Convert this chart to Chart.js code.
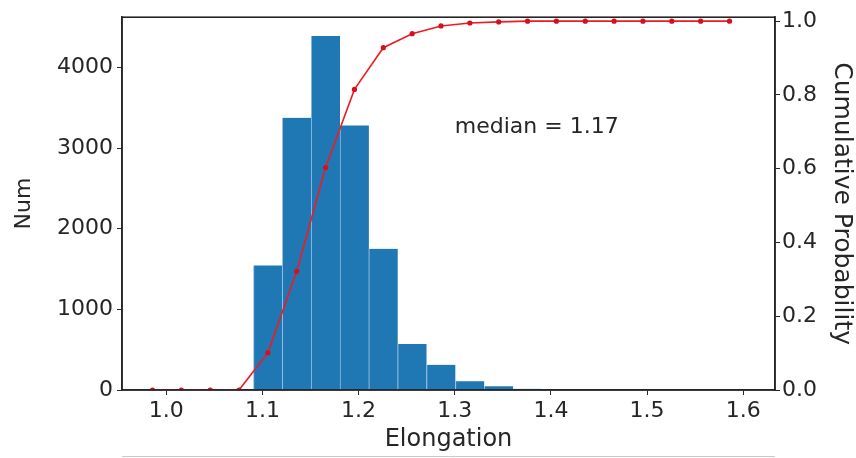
<!DOCTYPE html>
<html>
<head>
<meta charset="utf-8">
<script src="https://cdn.jsdelivr.net/npm/chart.js@4.4.1/dist/chart.umd.min.js"></script>
<style>
  html, body { margin: 0; padding: 0; background: #fff; }
  #wrap { position: relative; width: 856px; height: 458px; }
</style>
</head>
<body>
<div id="wrap"><canvas id="histChart" width="856" height="458"></canvas></div>
<script>
// bin centres of the elongation histogram
const binCenters = [0.9857, 1.0157, 1.0457, 1.0757, 1.1057, 1.1357, 1.1657, 1.1957, 1.2257, 1.2557,
                    1.2857, 1.3157, 1.3457, 1.3757, 1.4057, 1.4357, 1.4657, 1.4957, 1.5257, 1.5557, 1.5857];
// number of objects per bin
const counts = [0, 0, 0, 0, 1545, 3375, 4390, 3280, 1750, 570,
                313, 110, 45, 15, 0, 0, 0, 0, 0, 0, 0];
// cumulative probability at each bin centre
const cumProb = [0, 0, 0, 0, 0.101, 0.322, 0.603, 0.815, 0.928, 0.966,
                 0.987, 0.995, 0.998, 1.0, 1.0, 1.0, 1.0, 1.0, 1.0, 1.0, 1.0];
const xTicks = [1.0, 1.1, 1.2, 1.3, 1.4, 1.5, 1.6];
const numTicks = [0, 1000, 2000, 3000, 4000];
const probTicks = [0, 0.2, 0.4, 0.6, 0.8, 1.0];
const medianText = 'median = 1.17';

const FONT = "'DejaVu Sans', sans-serif";
const INK = '#262626';

var barData = [];
var lineData = [];
binCenters.forEach(function(x, i) {
    barData.push({x: x, y: counts[i]});
    lineData.push({x: x, y: cumProb[i]});
});

// frame on top + median note + the edge of the panel underneath
const framePlugin = {
    id: 'frame',
    afterDraw: function(chart) {
        const ctx = chart.ctx;
        const a = chart.chartArea;
        ctx.save();
        ctx.strokeStyle = INK;
        ctx.lineWidth = 1.6;
        ctx.strokeRect(a.left, a.top, a.right - a.left, a.bottom - a.top);

        ctx.fillStyle = INK;
        ctx.font = '22px ' + FONT;
        ctx.textAlign = 'left';
        ctx.textBaseline = 'middle';
        ctx.fillText(medianText, chart.scales.x.getPixelForValue(1.300), chart.scales.y1.getPixelForValue(0.712));

        ctx.strokeStyle = '#c8c8c8';
        ctx.lineWidth = 1;
        ctx.beginPath();
        ctx.moveTo(a.left, 456.5);
        ctx.lineTo(a.right, 456.5);
        ctx.stroke();
        ctx.restore();
    }
};

function fixWidth(w) {
    return function(scale) { scale.width = w; };
}
function setTicks(list) {
    return function(scale) {
        scale.ticks = list.map(function(v) { return {value: v}; });
    };
}

var ctx = document.getElementById('histChart').getContext('2d');
var histChart = new Chart(ctx, {
    type: 'bar',
    data: {
        datasets: [{
            type: 'line',
            data: lineData,
            yAxisID: 'y1',
            borderColor: '#f01a24',
            borderWidth: 1.6,
            pointRadius: 2.6,
            pointBackgroundColor: '#d4101c',
            pointBorderWidth: 0,
            tension: 0,
            order: 0
        }, {
            type: 'bar',
            data: barData,
            yAxisID: 'y',
            backgroundColor: '#1f77b4',
            borderColor: 'rgba(140,185,225,0.9)',
            borderWidth: {left: 1, right: 0, top: 0, bottom: 0},
            borderSkipped: false,
            barPercentage: 1,
            categoryPercentage: 1,
            order: 1
        }]
    },
    options: {
        responsive: false,
        animation: false,
        layout: { padding: {top: 11, left: 0, right: 0, bottom: 0} },
        plugins: { legend: {display: false}, tooltip: {enabled: false} },
        scales: {
            x: {
                type: 'linear',
                offset: false,
                min: 0.954,
                max: 1.633,
                afterBuildTicks: setTicks(xTicks),
                afterFit: function(scale) { scale.height = 68; },
                border: {display: true, color: INK, width: 1.6},
                grid: {display: true, offset: false, drawOnChartArea: false, drawTicks: true, tickLength: 5, color: INK},
                ticks: {
                    autoSkip: false,
                    maxRotation: 0,
                    padding: 3,
                    color: INK,
                    font: {family: FONT, size: 22},
                    callback: function(v) { return v.toFixed(1); }
                },
                title: {display: true, text: 'Elongation', color: INK, font: {family: FONT, size: 24}, padding: {top: 0, bottom: 4}}
            },
            y: {
                position: 'left',
                min: 0,
                max: 4622,
                afterBuildTicks: setTicks(numTicks),
                afterFit: fixWidth(122),
                border: {display: true, color: INK, width: 1.6},
                grid: {display: true, drawOnChartArea: false, drawTicks: true, tickLength: 5, color: INK},
                ticks: {
                    padding: 4,
                    color: INK,
                    font: {family: FONT, size: 22},
                    callback: function(v) { return String(v); }
                },
                title: {display: true, text: 'Num', color: INK, font: {family: FONT, size: 22}, padding: {top: 11, bottom: 0}}
            },
            y1: {
                position: 'right',
                min: 0,
                max: 1.0107,
                afterBuildTicks: setTicks(probTicks),
                afterFit: fixWidth(81),
                border: {display: true, color: INK, width: 1.6},
                grid: {display: true, drawOnChartArea: false, drawTicks: true, tickLength: 5, color: INK},
                ticks: {
                    padding: 2,
                    color: INK,
                    font: {family: FONT, size: 22},
                    callback: function(v) { return v.toFixed(1); }
                },
                title: {display: true, text: 'Cumulative Probability', color: INK, font: {family: FONT, size: 25}, padding: {top: 0, bottom: 0}}
            }
        }
    },
    plugins: [framePlugin]
});
</script>
</body>
</html>
